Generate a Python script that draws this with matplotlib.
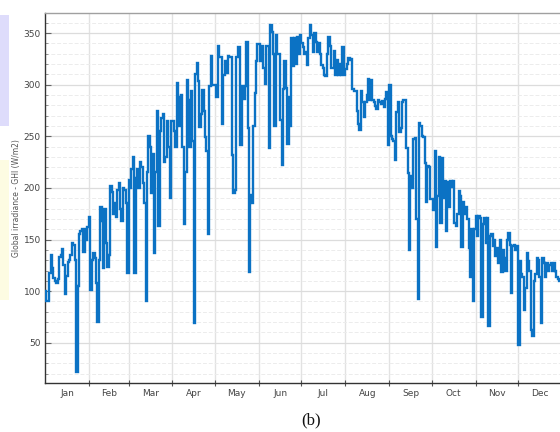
import numpy as np
import matplotlib
matplotlib.use("Agg")
import matplotlib.pyplot as plt
from matplotlib.patches import Rectangle

months = ["Jan", "Feb", "Mar", "Apr", "May", "Jun", "Jul", "Aug", "Sep", "Oct", "Nov", "Dec"]
month_days = [31, 28, 31, 30, 31, 30, 31, 31, 30, 31, 30, 31]

jan = [100, 90, 90, 118, 135, 122, 113, 110, 108, 112, 133, 135, 141, 125, 97, 115,
       128, 130, 135, 147, 145, 130, 22, 105, 155, 158, 160, 138, 160, 150, 162]
feb = [172, 101, 130, 137, 132, 108, 70, 130, 182, 168, 122, 180, 147, 123, 135, 202,
       196, 175, 185, 172, 198, 205, 180, 168, 200, 198, 185, 118]
mar = [208, 200, 218, 230, 118, 210, 218, 200, 225, 220, 205, 185, 90, 215, 250, 240,
       195, 233, 137, 215, 275, 163, 255, 268, 272, 225, 230, 265, 240, 190, 265]
apr = [265, 255, 240, 302, 260, 288, 290, 240, 165, 215, 305, 285, 240, 294, 245, 69,
       310, 321, 304, 259, 272, 295, 275, 249, 236, 155, 299, 328, 300, 300]
may = [300, 288, 338, 327, 327, 262, 309, 323, 311, 328, 327, 327, 232, 195, 198, 327,
       337, 337, 242, 299, 286, 299, 341, 258, 119, 193, 185, 260, 292, 323, 339]
jun = [339, 323, 338, 316, 301, 338, 338, 239, 358, 351, 330, 260, 348, 330, 330, 266,
       222, 296, 323, 297, 243, 288, 260, 345, 318, 345, 320, 346, 330, 348]
jul = [340, 337, 330, 332, 319, 345, 358, 348, 332, 350, 341, 332, 340, 330, 319, 316,
       309, 308, 330, 346, 338, 316, 316, 333, 309, 324, 309, 320, 309, 337, 309]
aug = [315, 320, 326, 324, 325, 296, 294, 294, 275, 262, 256, 294, 283, 269, 283, 290,
       306, 285, 305, 285, 283, 279, 276, 285, 283, 281, 284, 278, 286, 293, 242]
sep = [300, 250, 247, 245, 227, 274, 283, 254, 258, 283, 285, 285, 239, 214, 140, 212,
       200, 247, 248, 170, 92, 263, 260, 250, 249, 224, 186, 221, 220, 189]
oct_ = [189, 179, 236, 143, 192, 230, 166, 229, 190, 207, 158, 206, 182, 207, 201, 207,
        166, 163, 175, 197, 192, 143, 186, 175, 182, 170, 142, 114, 160, 90, 160]
nov = [173, 153, 173, 171, 75, 165, 171, 147, 171, 66, 153, 155, 144, 150, 134, 142,
       127, 150, 119, 140, 132, 120, 150, 156, 145, 98, 144, 145, 140, 144]
dec = [48, 129, 117, 114, 82, 103, 137, 129, 120, 62, 57, 110, 117, 132, 130, 114,
       69, 132, 127, 114, 127, 120, 125, 127, 120, 127, 120, 114, 112, 110, 110]

ghi = np.array(jan + feb + mar + apr + may + jun + jul + aug + sep + oct_ + nov + dec, dtype=float)
days = np.arange(len(ghi) + 1)
vals = np.append(ghi, ghi[-1])

bounds = np.concatenate([[0], np.cumsum(month_days)])
mids = (bounds[:-1] + bounds[1:]) / 2.0

fig = plt.figure(figsize=(5.6, 4.32), dpi=100)
fig.patch.set_facecolor("white")

# fragments of neighbouring panel at the left edge
fig.patches.append(Rectangle((0, 1 - 126 / 432), 9 / 560, 111 / 432, transform=fig.transFigure,
                             facecolor="#dedcfb", edgecolor="none"))
fig.patches.append(Rectangle((0, 1 - 300 / 432), 9 / 560, 140 / 432, transform=fig.transFigure,
                             facecolor="#fdfce2", edgecolor="none"))

ax = fig.add_axes([45 / 560, 49 / 432, 517 / 560, 370 / 432])
ax.set_facecolor("white")

ax.step(days, vals, where="post", color="#0b72c4", lw=1.7, solid_joinstyle="miter", zorder=3)

ax.set_xlim(0, 365)
ax.set_ylim(11, 369.5)

# grid
for b in bounds[1:-1]:
    ax.axvline(b, color="#e2e2e2", lw=1.0, zorder=1)
for v in range(20, 370, 10):
    if v % 50 == 0:
        ax.axhline(v, color="#dcdcdc", lw=0.9, zorder=1)
    else:
        ax.axhline(v, color="#ececec", lw=0.7, ls=(0, (4, 2)), zorder=1)

ax.set_yticks(range(50, 351, 50))
ax.set_yticks(range(20, 370, 10), minor=True)
ax.tick_params(axis="y", which="major", direction="in", length=4, width=0.8,
               labelsize=6.5, labelcolor="#444444", color="#666666", pad=3)
ax.tick_params(axis="y", which="minor", direction="in", length=2, width=0.6, color="#888888")

ax.set_xticks(bounds[1:-1])
ax.set_xticklabels([])
ax.set_xticks(mids, minor=True)
ax.set_xticklabels(months, minor=True)
ax.tick_params(axis="x", which="major", direction="inout", length=4, width=0.8, color="#555555")
ax.tick_params(axis="x", which="minor", length=0, labelsize=6.5, labelcolor="#444444", pad=4)

for s in ["left", "bottom"]:
    ax.spines[s].set_color("#333333")
    ax.spines[s].set_linewidth(1.0)
ax.spines["top"].set_color("#a0a0a0")
ax.spines["top"].set_linewidth(1.0)
ax.spines["right"].set_visible(False)

ax.set_ylabel("Global irradiance - GHI (W/m2)", fontsize=5.5, color="#555555", labelpad=2)

fig.text(311 / 560, 1 - 420 / 432, "(b)", family="Liberation Serif", fontsize=12,
         ha="center", va="center", color="#111111")

fig.savefig("out.png", dpi=100)
